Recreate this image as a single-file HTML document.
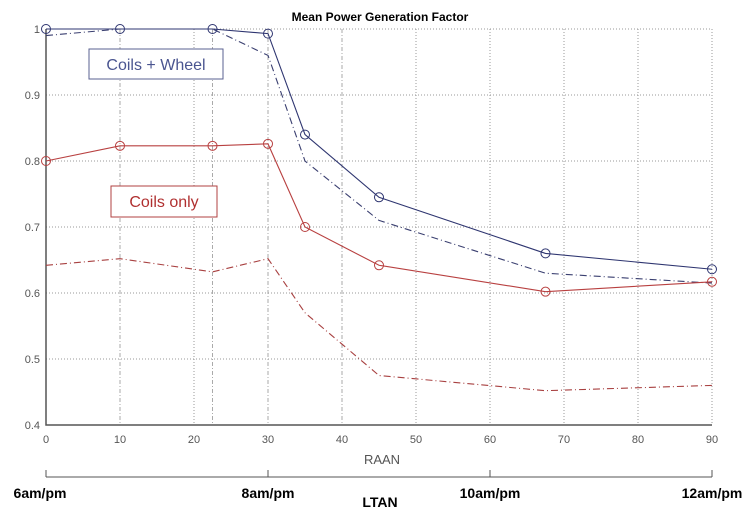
<!DOCTYPE html>
<html><head><meta charset="utf-8"><style>
body{margin:0;background:#fff;width:748px;height:514px;overflow:hidden}
text{font-family:"Liberation Sans",sans-serif}
</style></head><body>
<svg id="c" width="748" height="514">
<rect width="748" height="514" fill="#fff"/>
<text x="380" y="21" text-anchor="middle" font-size="12" font-weight="bold">Mean Power Generation Factor</text>
<g id="grid"></g>
<g id="series"></g>
<rect x="89" y="49" width="134" height="30" fill="#fff" stroke="#5a6090"/>
<text x="156" y="70" text-anchor="middle" font-size="16" fill="#4a5590">Coils + Wheel</text>
<rect x="111" y="186" width="106" height="31" fill="#fff" stroke="#b04040"/>
<text x="164" y="207" text-anchor="middle" font-size="16" fill="#b03030">Coils only</text>
<text x="382" y="464" text-anchor="middle" font-size="13" fill="#555">RAAN</text>
<line x1="46" y1="477" x2="712" y2="477" stroke="#555"/>
<g id="ltan"></g>
<text x="380" y="507" text-anchor="middle" font-size="14" font-weight="bold">LTAN</text>
</svg>
<script>
const xTicks=[0,10,20,30,40,50,60,70,80,90];
const yTicks=[0.4,0.5,0.6,0.7,0.8,0.9,1];
const yLabels=["0.4","0.5","0.6","0.7","0.8","0.9","1"];
const raan=[0,10,22.5,30,35,45,67.5,90];
const wheelSolid=[1,1,1,0.993,0.84,0.745,0.66,0.636];
const coilsSolid=[0.80,0.823,0.823,0.826,0.70,0.642,0.602,0.617];
const wheelDash=[0.99,1,1,0.96,0.80,0.71,0.63,0.615];
const coilsDash=[0.642,0.652,0.632,0.652,0.57,0.475,0.452,0.46];
const ltanPos=[0,30,60,90];
const ltanLabels=["6am/pm","8am/pm","10am/pm","12am/pm"];
const X=v=>46+v*(666/90), Y=v=>29+(1-v)*660;
const NS="http://www.w3.org/2000/svg";
function mk(p,t,a){const e=document.createElementNS(NS,t);for(const k in a)e.setAttribute(k,a[k]);p.appendChild(e);return e;}
const g=document.getElementById('grid');
xTicks.forEach(t=>{
 const l=mk(g,'line',{x1:X(t),x2:X(t),y1:Y(1),y2:Y(0.4),stroke:'#999','stroke-dasharray':'1,2'});
 
 const tx=mk(g,'text',{x:X(t),y:443,'text-anchor':'middle','font-size':11,fill:'#555'});tx.textContent=t;
 
});
[10,22.5,30,40].forEach(t=>{mk(g,'line',{x1:X(t),x2:X(t),y1:Y(1),y2:Y(0.4),stroke:'#aaa','stroke-dasharray':'4,2,1,2'});});
yTicks.forEach((t,i)=>{
 const l=mk(g,'line',{x1:X(0),x2:X(90),y1:Y(t),y2:Y(t),stroke:'#999','stroke-dasharray':'1,2'});
 
 const tx=mk(g,'text',{x:40,y:Y(t)+4,'text-anchor':'end','font-size':11,fill:'#555'});tx.textContent=yLabels[i];
 
});
const ax=mk(g,'polyline',{points:`${X(0)},${Y(1)} ${X(0)},${Y(0.4)} ${X(90)},${Y(0.4)}`,fill:'none',stroke:'#555','stroke-width':1.5});

const s=document.getElementById('series');
function line(vals,col,dash,markers,name){
 const p=mk(s,'polyline',{points:raan.map((x,i)=>X(x)+','+Y(vals[i])).join(' '),fill:'none',stroke:col,'stroke-width':1.1});
 if(dash)p.setAttribute('stroke-dasharray','7,3,1,3');
 
 if(markers)raan.forEach((x,i)=>{const c=mk(s,'circle',{cx:X(x),cy:Y(vals[i]),r:4.5,fill:'none',stroke:col});
  });
}
line(wheelDash,'#3a3f70',true,false,'wheel-dashdot-line');
line(coilsDash,'#a84040',true,false,'coils-dashdot-line');
line(wheelSolid,'#2e3570',false,true,'wheel-solid-line');
line(coilsSolid,'#b84040',false,true,'coils-solid-line');
const lt=document.getElementById('ltan');
ltanPos.forEach((t,i)=>{
 mk(lt,'line',{x1:X(t),x2:X(t),y1:470,y2:477,stroke:'#555'});
 const tx=mk(lt,'text',{x:i==0?40:X(t),y:498,'text-anchor':'middle','font-size':14,'font-weight':'bold'});tx.textContent=ltanLabels[i];
 
});
</script>
</body></html>
